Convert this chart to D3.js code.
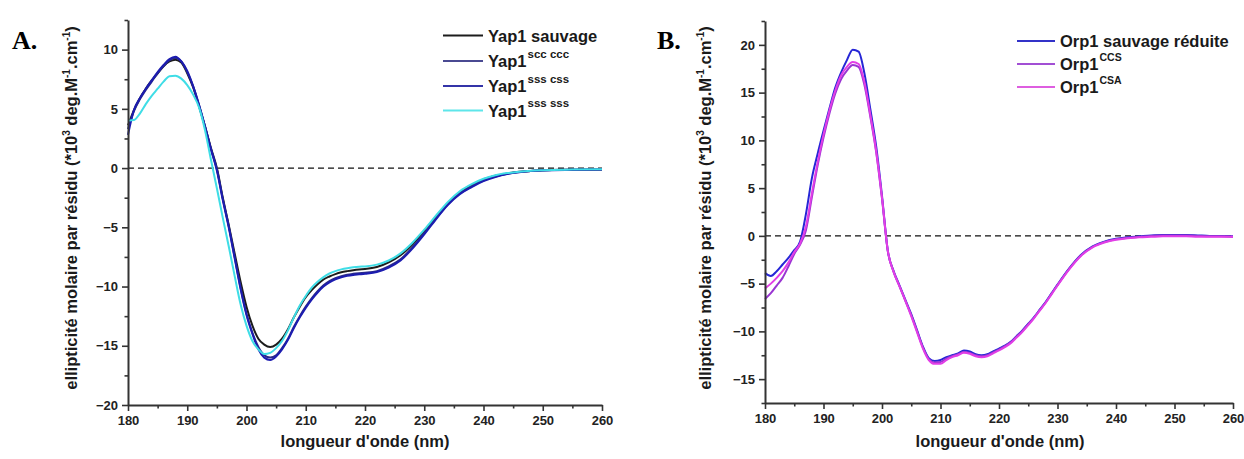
<!DOCTYPE html>
<html><head><meta charset="utf-8">
<script src="https://cdn.jsdelivr.net/npm/d3@7"></script>
<style>
body{margin:0;background:#fff}
svg{display:block}
text{font-family:"Liberation Sans",Arial,sans-serif;font-weight:bold;fill:#1a1a1a}
text.letter{font-family:"Liberation Serif","Times New Roman",serif;fill:#000}
</style>
</head><body>
<svg id="chart" width="1244" height="459"></svg>
<script>
// ---------- data ----------
const wlA = [180,181,182,183,184,185,186,187,188,189,190,191,192,193,194,195,196,197,198,199,200,
  201,202,203,204,205,206,207,208,209,210,211,212,213,214,215,216,217,218,219,220,
  222,224,226,228,230,232,234,236,238,240,242,244,246,248,250,255,260];
const yapSauvage = [3.6,4.9,5.9,6.7,7.4,8.0,8.6,9.0,9.15,8.9,8.0,6.8,5.2,3.5,1.7,0.0,-2.5,-4.8,-7.2,-9.6,-11.7,
  -13.3,-14.4,-14.9,-15.1,-14.9,-14.4,-13.6,-12.6,-11.7,-10.9,-10.3,-9.8,-9.4,-9.15,-8.95,-8.8,-8.7,-8.62,-8.56,-8.52,
  -8.35,-7.95,-7.35,-6.45,-5.35,-4.15,-3.0,-2.1,-1.45,-0.95,-0.65,-0.45,-0.32,-0.24,-0.19,-0.14,-0.11];
const yapSccCcc = [3.3,4.8,5.8,6.6,7.3,8.0,8.6,9.1,9.3,9.0,8.1,6.9,5.3,3.5,1.6,-0.1,-2.6,-4.9,-7.5,-10.1,-12.3,
  -13.9,-15.1,-15.8,-16.0,-15.8,-15.2,-14.4,-13.4,-12.5,-11.7,-11.0,-10.4,-9.9,-9.55,-9.3,-9.12,-9.0,-8.93,-8.88,-8.84,
  -8.7,-8.3,-7.7,-6.7,-5.5,-4.25,-3.05,-2.15,-1.55,-1.05,-0.72,-0.48,-0.33,-0.24,-0.19,-0.14,-0.11];
const yapSssCss = [2.8,4.9,5.9,6.7,7.4,8.1,8.7,9.2,9.4,9.0,8.2,6.9,5.3,3.5,1.6,-0.2,-2.7,-5.0,-7.6,-10.2,-12.4,
  -14.0,-15.3,-16.0,-16.2,-15.9,-15.3,-14.5,-13.5,-12.6,-11.8,-11.1,-10.5,-10.0,-9.65,-9.4,-9.22,-9.1,-9.02,-8.97,-8.92,
  -8.78,-8.4,-7.8,-6.8,-5.6,-4.3,-3.1,-2.2,-1.6,-1.1,-0.75,-0.5,-0.35,-0.25,-0.2,-0.15,-0.12];
const yapSssSss = [4.0,4.05,4.6,5.4,6.1,6.7,7.3,7.75,7.8,7.55,7.0,6.2,5.1,3.2,0.7,-1.7,-4.2,-6.6,-9.1,-11.5,-13.3,
  -14.6,-15.3,-15.7,-15.6,-15.2,-14.6,-13.7,-12.6,-11.6,-10.8,-10.1,-9.6,-9.2,-8.9,-8.7,-8.55,-8.45,-8.38,-8.33,-8.3,
  -8.15,-7.8,-7.2,-6.3,-5.2,-4.0,-2.85,-1.95,-1.35,-0.9,-0.6,-0.42,-0.3,-0.22,-0.18,-0.13,-0.1];

const wlB = [180,181,182,183,184,185,186,187,188,189,190,191,192,193,194,195,196,197,198,199,200,
  201,202,203,204,205,206,207,208,209,210,211,212,213,214,215,216,217,218,219,220,
  221,222,223,224,225,226,227,228,229,230,
  232,234,236,238,240,242,244,246,248,250,252,254,256,258,260];
const orpSauvage = [-3.9,-4.2,-3.7,-3.0,-2.3,-1.5,-0.6,2.3,6.0,8.6,11.0,13.3,15.5,17.1,18.4,19.5,19.3,17.0,13.3,9.4,4.2,
  -1.6,-3.7,-5.2,-6.7,-8.2,-9.9,-11.6,-12.8,-13.1,-13.0,-12.7,-12.5,-12.3,-12.0,-12.1,-12.4,-12.5,-12.4,-12.1,-11.8,
  -11.5,-11.1,-10.5,-9.9,-9.2,-8.5,-7.7,-6.9,-6.0,-5.1,
  -3.4,-2.0,-1.1,-0.6,-0.3,-0.15,-0.05,0.05,0.1,0.1,0.1,0.05,0.0,0.0,-0.05];
const orpCCS = [-6.6,-6.0,-5.2,-4.4,-3.2,-1.9,-0.9,0.6,4.0,7.4,10.3,12.8,14.9,16.4,17.3,17.9,17.7,15.8,12.5,8.8,3.9,
  -1.6,-3.8,-5.3,-6.8,-8.3,-10.0,-11.7,-12.9,-13.25,-13.2,-12.85,-12.6,-12.4,-12.15,-12.25,-12.5,-12.6,-12.5,-12.2,-11.9,
  -11.55,-11.15,-10.55,-9.95,-9.25,-8.55,-7.75,-6.95,-6.05,-5.15,
  -3.45,-2.05,-1.15,-0.65,-0.35,-0.2,-0.1,0.0,0.05,0.05,0.05,0.0,-0.05,-0.05,-0.1];
const orpCSA = [-5.5,-5.0,-4.4,-3.7,-2.8,-1.7,-0.8,1.0,4.4,7.7,10.6,13.1,15.2,16.8,17.7,18.2,18.0,16.1,12.7,8.9,4.0,
  -1.6,-3.8,-5.3,-6.8,-8.4,-10.1,-11.8,-13.0,-13.4,-13.4,-13.0,-12.7,-12.5,-12.25,-12.35,-12.6,-12.7,-12.6,-12.3,-12.0,
  -11.65,-11.25,-10.65,-10.05,-9.35,-8.6,-7.8,-7.0,-6.1,-5.2,
  -3.5,-2.1,-1.2,-0.7,-0.4,-0.25,-0.15,-0.1,-0.05,-0.05,-0.05,-0.1,-0.1,-0.1,-0.1];

const xTicks = [180,190,200,210,220,230,240,250,260];
const xMinor = [185,195,205,215,225,235,245,255];
const yTicksA = [-20,-15,-10,-5,0,5,10];
const yMinorA = [-17.5,-12.5,-7.5,-2.5,2.5,7.5,12.5];
const yTicksB = [-15,-10,-5,0,5,10,15,20];
const yMinorB = [-17.5,-12.5,-7.5,-2.5,2.5,7.5,12.5,17.5,22.5];

const namesA = ["Yap1 sauvage","Yap1|scc ccc","Yap1|sss css","Yap1|sss sss"];
const namesB = ["Orp1 sauvage réduite","Orp1|CCS","Orp1|CSA"];

const yTitle = "ellipticité molaire par résidu (*10";

// ---------- drawing ----------
const svg = d3.select("#chart");

function panel(cfg){
  const g = svg.append("g");
  const x = d3.scaleLinear().domain([180,260]).range(cfg.xr);
  const y = d3.scaleLinear().domain(cfg.yd).range(cfg.yr);

  // zero dashed line
  g.append("line").attr("x1",x(180)).attr("x2",x(260)).attr("y1",y(0)).attr("y2",y(0))
    .attr("stroke","#111").attr("stroke-width",1.3).attr("stroke-dasharray","6,4");

  // curves
  const line = d3.line().x(d=>x(d[0])).y(d=>y(d[1])).curve(d3.curveMonotoneX);
  cfg.series.forEach((s,i)=>{
    g.append("path").datum(cfg.wl.map((w,j)=>[w,s[j]]))
      .attr("d",line).attr("fill","none").attr("stroke",cfg.colors[i])
      .attr("stroke-width",2).attr("stroke-linejoin","round");
  });

  // axes
  g.append("g").attr("transform",`translate(0,${cfg.yr[0]})`)
    .call(d3.axisBottom(x).tickValues(xTicks).tickSize(6).tickSizeOuter(0).tickPadding(5).tickFormat(d3.format("d")));
  g.append("g").attr("transform",`translate(0,${cfg.yr[0]})`)
    .call(d3.axisBottom(x).tickValues(xMinor).tickSize(3.5).tickFormat(""))
    .select(".domain").remove();
  g.append("g").attr("transform",`translate(${cfg.xr[0]},0)`)
    .call(d3.axisLeft(y).tickValues(cfg.yt).tickSize(6).tickSizeOuter(0).tickPadding(4).tickFormat(d3.format("d")));
  g.append("g").attr("transform",`translate(${cfg.xr[0]},0)`)
    .call(d3.axisLeft(y).tickValues(cfg.ym).tickSize(3.5).tickFormat(""))
    .select(".domain").remove();
  g.selectAll(".domain").attr("stroke","#333").attr("stroke-width",2);
  g.selectAll(".tick line").attr("stroke","#333").attr("stroke-width",1.6);
  g.selectAll(".tick text").style("font-size","13px").style("fill","#222");

  // x title
  g.append("text").attr("x",cfg.xTitleX).attr("y",447).attr("text-anchor","middle")
    .style("font-size","16.5px").text("longueur d'onde (nm)");

  // y title (rotated)
  const yt = g.append("text").attr("transform",`translate(${cfg.yTitleX},${cfg.yTitleY}) rotate(-90)`)
    .attr("text-anchor","middle").style("font-size","16.5px");
  yt.append("tspan").text(yTitle);
  yt.append("tspan").style("font-size","10px").attr("dy",-7).text("3");
  yt.append("tspan").attr("dy",7).text(" deg.M");
  yt.append("tspan").style("font-size","10px").attr("dy",-7).text("-1");
  yt.append("tspan").attr("dy",7).text(".cm");
  yt.append("tspan").style("font-size","10px").attr("dy",-7).text("-1");
  yt.append("tspan").attr("dy",7).text(")");

  // panel letter
  g.append("text").attr("class","letter").attr("x",cfg.letterX).attr("y",49)
    .style("font-size","26px").text(cfg.letter);

  // legend
  cfg.names.forEach((n,i)=>{
    const ly = cfg.legY[i];
    g.append("line").attr("x1",cfg.legX).attr("x2",cfg.legX+cfg.legLen).attr("y1",ly).attr("y2",ly)
      .attr("stroke",cfg.legColors[i]).attr("stroke-width",2.2);
    const parts = n.split("|");
    const t = g.append("text").attr("x",cfg.legX+cfg.legLen+5).attr("y",ly+6).style("font-size","16.5px");
    t.append("tspan").text(parts[0]);
    if(parts[1]) t.append("tspan").style("font-size",cfg.supSize+"px").attr("dy",-9.5).attr("dx",1).text(parts[1]);
  });
}

panel({
  xr:[128,602], yd:[-20,12.5], yr:[405,20], yt:yTicksA, ym:yMinorA,
  wl:wlA, series:[yapSauvage,yapSccCcc,yapSssCss,yapSssSss],
  colors:["#1c1c1c","#2a2a8a","#1c1cb0","#3fdde6"],
  legColors:["#1c1c1c","#4a4a92","#3434a8","#5ee6ea"],
  names:namesA, legX:443, legLen:40, legY:[35.5,61,86,110.5], supSize:11.5,
  xTitleX:365, yTitleX:77, yTitleY:208, letter:"A.", letterX:12
});
panel({
  xr:[765,1233], yd:[-17.5,22.5], yr:[403,21], yt:yTicksB, ym:yMinorB,
  wl:wlB, series:[orpSauvage,orpCCS,orpCSA],
  colors:["#2626d6","#9a35d2","#e23ee6"],
  legColors:["#3232c8","#a24fd4","#de5ee0"],
  names:namesB, legX:1017, legLen:38, legY:[41,64,87], supSize:10.5,
  xTitleX:1000, yTitleX:711, yTitleY:208, letter:"B.", letterX:657
});
</script>
</body></html>
